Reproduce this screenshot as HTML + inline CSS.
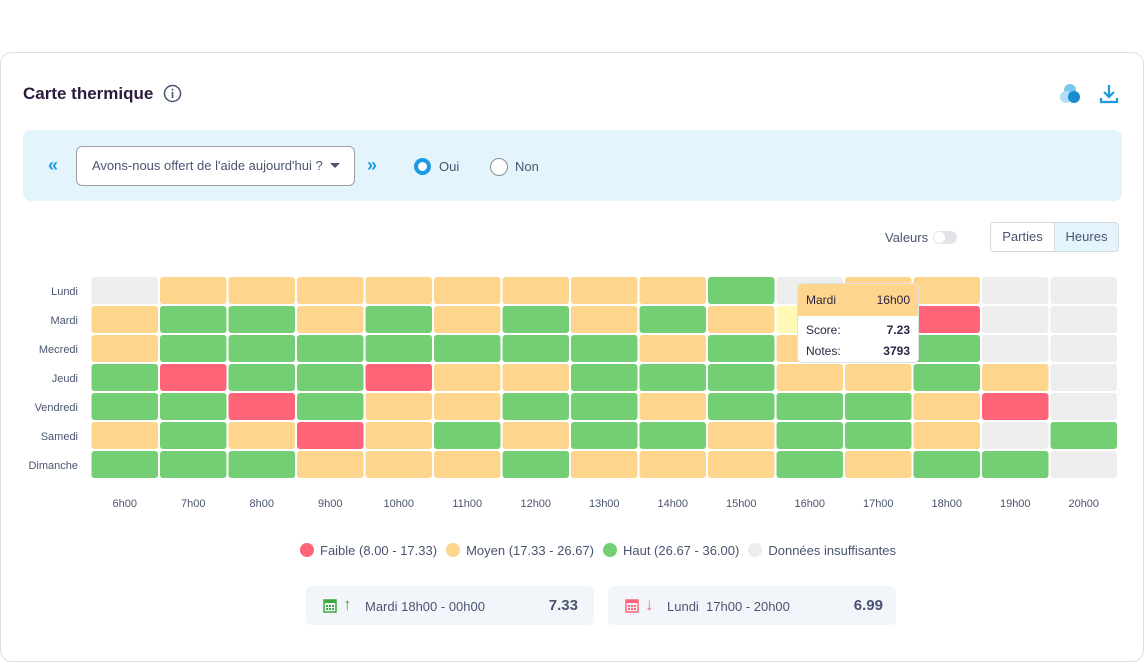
<!DOCTYPE html>
<html><head><meta charset="utf-8"><style>
*{box-sizing:border-box;margin:0;padding:0}
body{width:1144px;height:662px;background:#fff;font-family:"Liberation Sans",sans-serif;color:#4a5470;position:relative;overflow:hidden}
.card{position:absolute;left:0;top:52px;width:1144px;height:610px;border:1px solid #dcdfe4;border-radius:12px}
.abs{position:absolute}
</style></head><body>
<div class="card"></div>
<div class="abs" style="left:23px;top:84px;font-size:17px;font-weight:bold;color:#2d1b3d">Carte thermique</div>
<svg class="abs" style="left:163px;top:84px" width="19" height="19"><circle cx="9.5" cy="9.5" r="8" fill="none" stroke="#4a5470" stroke-width="1.5"/><rect x="8.7" y="8" width="1.6" height="6" fill="#4a5470"/><circle cx="9.5" cy="5.6" r="1" fill="#4a5470"/></svg>
<svg class="abs" style="left:1058px;top:82px" width="26" height="24"><circle cx="12" cy="8" r="6" fill="#7cc7ef"/><circle cx="8" cy="15" r="6" fill="#b3ddf5"/><circle cx="16" cy="15" r="6" fill="#1a8bcc"/></svg>
<svg class="abs" style="left:1098px;top:82px" width="22" height="22"><path d="M11 3v12M6 10l5 5 5-5M3 16v4h16v-4" fill="none" stroke="#1e9be0" stroke-width="2.2"/></svg>
<div class="abs" style="left:23px;top:130px;width:1099px;height:71px;background:#e4f4fd;border-radius:8px"></div>
<div class="abs" style="left:48px;top:155px;font-size:18px;font-weight:bold;color:#1e9be0">«</div>
<div class="abs" style="left:76px;top:146px;width:279px;height:40px;background:#fff;border:1px solid #9aa0a8;border-radius:6px;font-size:13px;line-height:38px;padding-left:15px;color:#4a5470">Avons-nous offert de l'aide aujourd'hui ?<span style="position:absolute;right:14px;top:16px;border-left:5px solid transparent;border-right:5px solid transparent;border-top:5px solid #4a5470"></span></div>
<div class="abs" style="left:367px;top:155px;font-size:18px;font-weight:bold;color:#1e9be0">»</div>
<div class="abs" style="left:414px;top:158px;width:17px;height:17px;border-radius:50%;border:4px solid #1e9be0;background:#fff"></div>
<div class="abs" style="left:439px;top:159px;font-size:13px">Oui</div>
<div class="abs" style="left:490px;top:158px;width:18px;height:18px;border-radius:50%;border:1px solid #8a8f98;background:#fff"></div>
<div class="abs" style="left:515px;top:159px;font-size:13px">Non</div>
<div class="abs" style="left:885px;top:230px;font-size:13px">Valeurs</div>
<div class="abs" style="left:933px;top:231px;width:24px;height:13px;border-radius:7px;background:#e2e4e8"><div style="position:absolute;left:1px;top:1px;width:11px;height:11px;border-radius:50%;background:#fff"></div></div>
<div class="abs" style="left:990px;top:222px;width:129px;height:30px;border:1px solid #d6d9de;border-radius:4px;overflow:hidden;font-size:13px;display:flex">
<div style="width:64px;line-height:28px;text-align:center;border-right:1px solid #d6d9de">Parties</div>
<div style="flex:1;line-height:28px;text-align:center;background:#e4f4fd">Heures</div></div>
<svg class="abs" id="hm" style="left:0;top:260px" width="1144" height="260"></svg>
<div class="abs" style="left:797px;top:283px;width:122px;height:80px;background:#fff;border:1px solid #e2e2e2;border-radius:5px;overflow:hidden;font-size:12px;color:#2d2445">
<div style="background:#fdd58c;height:32px;line-height:32px;padding:0 8px;display:flex;justify-content:space-between"><span>Mardi</span><span>16h00</span></div>
<div style="padding:4px 8px 0;line-height:21px;display:flex;justify-content:space-between"><span>Score:</span><b>7.23</b></div>
<div style="padding:0 8px;line-height:21px;display:flex;justify-content:space-between"><span>Notes:</span><b>3793</b></div></div>
<div class="abs" style="left:300px;top:543px;font-size:13px;display:flex;gap:9px;align-items:center;white-space:nowrap">
<span><span style="display:inline-block;width:14px;height:14px;border-radius:50%;background:#ff6479;vertical-align:-2px;margin-right:6px"></span>Faible (8.00 - 17.33)</span>
<span><span style="display:inline-block;width:14px;height:14px;border-radius:50%;background:#fdd58c;vertical-align:-2px;margin-right:6px"></span>Moyen (17.33 - 26.67)</span>
<span><span style="display:inline-block;width:14px;height:14px;border-radius:50%;background:#74ce74;vertical-align:-2px;margin-right:6px"></span>Haut (26.67 - 36.00)</span>
<span><span style="display:inline-block;width:14px;height:14px;border-radius:50%;background:#ededed;vertical-align:-2px;margin-right:6px"></span>Données insuffisantes</span></div>
<div class="abs" style="left:306px;top:586px;width:288px;height:39px;background:#f2f6fa;border-radius:5px;font-size:13px">
<svg style="position:absolute;left:17px;top:12px" width="14" height="15"><rect x="1" y="2" width="12" height="12" fill="none" stroke="#3fa83f" stroke-width="1.5"/><rect x="1" y="2" width="12" height="3" fill="#3fa83f"/><g fill="#3fa83f"><rect x="3" y="7" width="2" height="2"/><rect x="6" y="7" width="2" height="2"/><rect x="9" y="7" width="2" height="2"/><rect x="3" y="10" width="2" height="2"/><rect x="6" y="10" width="2" height="2"/><rect x="9" y="10" width="2" height="2"/></g></svg>
<span style="position:absolute;left:37px;top:9px;color:#3fa83f;font-size:17px;font-weight:bold">↑</span>
<span style="position:absolute;left:59px;top:13px">Mardi 18h00 - 00h00</span>
<b style="position:absolute;right:16px;top:11px;font-size:15px">7.33</b></div>
<div class="abs" style="left:608px;top:586px;width:288px;height:39px;background:#f2f6fa;border-radius:5px;font-size:13px">
<svg style="position:absolute;left:17px;top:12px" width="14" height="15"><rect x="1" y="2" width="12" height="12" fill="none" stroke="#ff6479" stroke-width="1.5"/><rect x="1" y="2" width="12" height="3" fill="#ff6479"/><g fill="#ff6479"><rect x="3" y="7" width="2" height="2"/><rect x="6" y="7" width="2" height="2"/><rect x="9" y="7" width="2" height="2"/><rect x="3" y="10" width="2" height="2"/><rect x="6" y="10" width="2" height="2"/><rect x="9" y="10" width="2" height="2"/></g></svg>
<span style="position:absolute;left:37px;top:9px;color:#ff6479;font-size:17px;font-weight:bold">↓</span>
<span style="position:absolute;left:59px;top:13px">Lundi&nbsp; 17h00 - 20h00</span>
<b style="position:absolute;right:13px;top:11px;font-size:15px">6.99</b></div>
<script>
const days=["Lundi","Mardi","Mecredi","Jeudi","Vendredi","Samedi","Dimanche"];
const hours=["6h00","7h00","8h00","9h00","10h00","11h00","12h00","13h00","14h00","15h00","16h00","17h00","18h00","19h00","20h00"];
const lundi=[null,22,22,22,22,22,22,22,22,30,null,22,22,null,null];
const mardi=[22,30,30,22,30,22,30,22,30,22,7.23,22,12,null,null];
const mercredi=[22,30,30,30,30,30,30,30,22,30,22,22,30,null,null];
const jeudi=[30,12,30,30,12,22,22,30,30,30,22,22,30,22,null];
const vendredi=[30,30,12,30,22,22,30,30,22,30,30,30,22,12,null];
const samedi=[22,30,22,12,22,30,22,30,30,22,30,30,22,null,30];
const dimanche=[30,30,30,22,22,22,30,22,22,22,30,22,30,30,null];
const values=[lundi,mardi,mercredi,jeudi,vendredi,samedi,dimanche];
const hovered=[1,10];
const NS="http://www.w3.org/2000/svg";
const svg=document.getElementById("hm");
const x0=90.5,pw=68.5,y0=17,ph=29;
const xPos=i=>x0+i*pw, yPos=j=>y0+j*ph;
function color(v){if(v==null)return"#ededed";if(v<8)return"#fff9b8";if(v<17.33)return"#ff6479";if(v<26.67)return"#fdd58c";return"#74ce74";}
days.forEach((d,j)=>{
  const t=document.createElementNS(NS,"text");
  
  
  t.setAttribute("x",78);t.setAttribute("y",yPos(j)+18);t.setAttribute("text-anchor","end");
  t.setAttribute("font-size","11");t.setAttribute("fill","#4a5470");t.textContent=d;svg.appendChild(t);
  hours.forEach((h,i)=>{
    const r=document.createElementNS(NS,"rect");
    
    
    r.setAttribute("x",xPos(i)+1);r.setAttribute("y",yPos(j));r.setAttribute("width",pw-2);r.setAttribute("height",ph-2);
    r.setAttribute("rx",3);
    let c=color(values[j][i]);
    if(j===hovered[0]&&i===hovered[1])c="#fff9b8";
    r.setAttribute("fill",c);svg.appendChild(r);
  });
});
hours.forEach((h,i)=>{
  const t=document.createElementNS(NS,"text");
  
  
  t.setAttribute("x",xPos(i)+pw/2);t.setAttribute("y",247);t.setAttribute("text-anchor","middle");
  t.setAttribute("font-size","11");t.setAttribute("fill","#4a5470");t.textContent=h;svg.appendChild(t);
});
</script>
</body></html>
